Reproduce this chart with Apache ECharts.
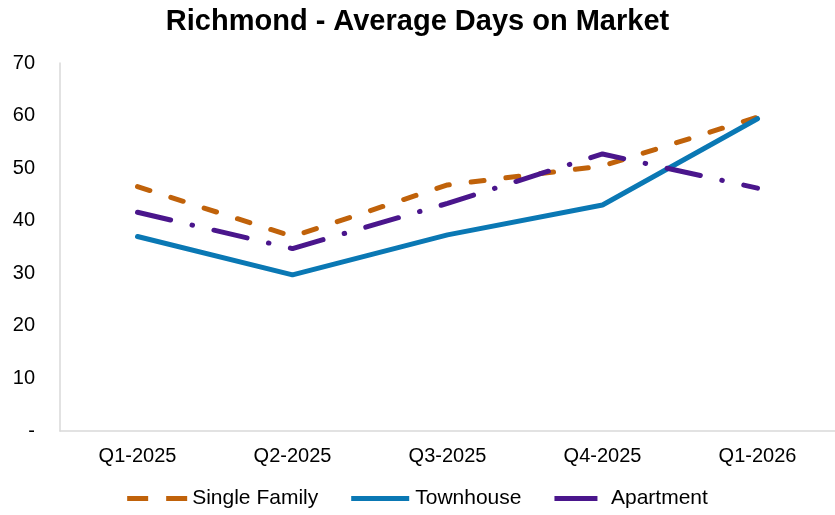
<!DOCTYPE html>
<html>
<head>
<meta charset="utf-8">
<script src="https://cdn.jsdelivr.net/npm/echarts@6/dist/echarts.min.js"></script>
<style>
  html, body { margin: 0; padding: 0; background: #fff; }
  #main { width: 835px; height: 515px; }
</style>
</head>
<body>
<div id="main"></div>
<script>
var quarters = ['Q1-2025', 'Q2-2025', 'Q3-2025', 'Q4-2025', 'Q1-2026'];
var singleFamily = [46.5, 37.0, 46.8, 50.4, 59.7];
var townhouse = [37.0, 29.7, 37.3, 43.0, 59.4];
var apartment = [41.6, 34.7, 43.3, 52.7, 46.2];

var chart = echarts.init(document.getElementById('main'), null, { renderer: 'canvas' });

var font = 'Liberation Sans, Arial, sans-serif';

var option = {
    animation: false,
    title: {
        text: 'Richmond - Average Days on Market',
        left: 'center',
        top: 2,
        textStyle: { fontFamily: font, fontSize: 29, fontWeight: 'bold', color: '#000' }
    },
    legend: {
        top: 483,
        left: 'center',
        itemWidth: 60,
        itemHeight: 5,
        itemGap: 33,
        textStyle: { fontFamily: font, fontSize: 21, color: '#000' },
        data: [
            { name: 'Single Family', icon: 'path://M0,0h21v5h-21z M39,0h21v5h-21z' },
            { name: 'Townhouse', icon: 'path://M0,0h58v5h-58z' },
            { name: 'Apartment', icon: 'path://M0,0h43v5h-43z' }
        ]
    },
    grid: { left: 60, right: 0, top: 63, bottom: 84 },
    xAxis: {
        type: 'category',
        data: quarters,
        boundaryGap: true,
        axisLine: { lineStyle: { color: '#d9d9d9', width: 1.5 } },
        axisTick: { show: false },
        axisLabel: { fontFamily: font, fontSize: 20, color: '#000', margin: 15 }
    },
    yAxis: {
        type: 'value',
        min: 0,
        max: 70,
        interval: 10,
        axisLine: { show: true, lineStyle: { color: '#d9d9d9', width: 1.5 } },
        axisTick: { show: false },
        splitLine: { show: false },
        axisLabel: {
            fontFamily: font, fontSize: 20, color: '#000', margin: 25,
            formatter: function (v) { return v === 0 ? '-' : v; }
        }
    },
    series: [
        {
            name: 'Single Family',
            type: 'line',
            data: singleFamily,
            symbol: 'none',
            color: '#C0620A',
            lineStyle: { width: 5, color: '#C0620A', type: [13, 22], cap: 'round' }
        },
        {
            name: 'Townhouse',
            type: 'line',
            data: townhouse,
            symbol: 'none',
            color: '#0A78B4',
            lineStyle: { width: 5, color: '#0A78B4', cap: 'round' }
        },
        {
            name: 'Apartment',
            type: 'line',
            data: apartment,
            symbol: 'none',
            color: '#4A168C',
            lineStyle: { width: 5, color: '#4A168C', type: [34, 22, 0.5, 22], cap: 'round' }
        }
    ]
};

chart.setOption(option);
</script>
</body>
</html>
